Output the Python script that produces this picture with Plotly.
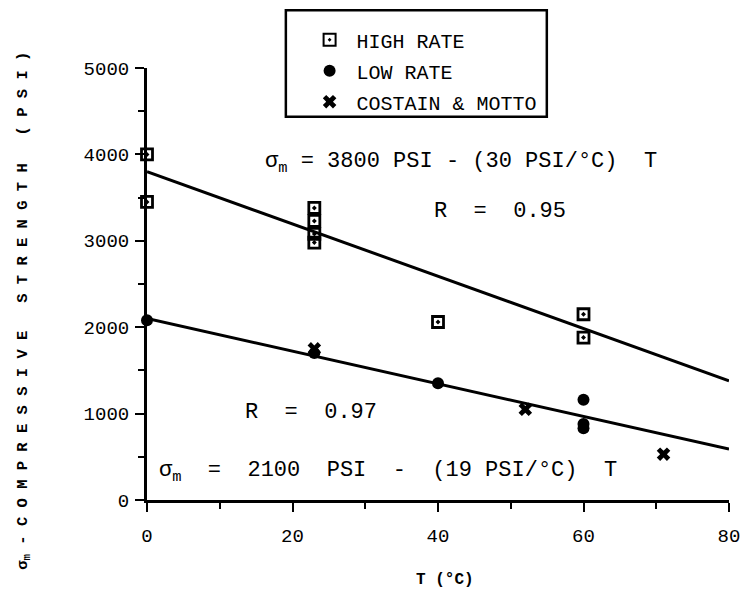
import plotly.graph_objects as go

# ---- data ----
high_T = [0, 0, 23, 23, 23, 23, 40, 60, 60]
high_S = [4000, 3450, 3380, 3230, 3080, 2980, 2060, 2150, 1880]

low_T = [0, 23, 40, 60, 60, 60]
low_S = [2080, 1700, 1350, 1160, 880, 830]

cm_T = [23, 52, 71]
cm_S = [1750, 1050, 530]

fit_T = [0, 80]
fit_high = [3800, 1380]
fit_low = [2100, 590]

FONT = "Liberation Mono"

# the page body adds an 8px offset; figure is sized so it ends at the window edge
OFF = 8
W, H = 752 - OFF, 592 - OFF
L, R, T, B = 147 - OFF, 14, 66 - OFF, 92
PW, PH = W - L - R, H - T - B


def px(s):
    """screen x pixel -> paper coordinate"""
    return (s - OFF - L) / PW


def py(s):
    """screen y pixel -> paper coordinate"""
    return (H - B - (s - OFF)) / PH


fig = go.Figure()
fig.add_trace(go.Scatter(x=fit_T, y=fit_high, mode="lines",
                         line=dict(color="black", width=3), showlegend=False, hoverinfo="skip"))
fig.add_trace(go.Scatter(x=fit_T, y=fit_low, mode="lines",
                         line=dict(color="black", width=3), showlegend=False, hoverinfo="skip"))
fig.add_trace(go.Scatter(x=high_T, y=high_S, mode="markers", name="HIGH RATE", legendgroup="a",
                         marker=dict(symbol="square-open-dot", size=11, color="black",
                                     line=dict(color="black", width=2.8)), cliponaxis=False))
fig.add_trace(go.Scatter(x=low_T, y=low_S, mode="markers", name="LOW RATE", legendgroup="b",
                         marker=dict(symbol="circle", size=12, color="black"), cliponaxis=False))
fig.add_trace(go.Scatter(x=cm_T, y=cm_S, mode="markers", name="COSTAIN & MOTTO", legendgroup="c",
                         marker=dict(symbol="x", size=12, color="black"), cliponaxis=False))

ann_font = dict(family=FONT, size=22, color="black")


def note(x, y, text, font=ann_font, **kw):
    fig.add_annotation(x=px(x), y=py(y), xref="paper", yref="paper",
                       xanchor="center", yanchor="middle", showarrow=False,
                       text=text, font=font, **kw)


note(466, 161, "σ<sub>m</sub> = 3800 PSI - (30 PSI/°C)  T")
note(505, 210, "R  =  0.95")
note(314, 412, "R  =  0.97")
note(392, 472, "σ<sub>m</sub>  =  2100  PSI  -  (19 PSI/°C)  T")
note(22, 310,
     "<b>σ<sub>m</sub> - C O M P R E S S I V E   S T R E N G T H   ( P S I )</b>",
     font=dict(family=FONT, size=15.5, color="black"), textangle=-90)
note(450, 580, "<b>T (°C)</b>", font=dict(family=FONT, size=16, color="black"))

# legend frame
fig.add_shape(type="rect", xref="paper", yref="paper",
              x0=px(288), x1=px(553), y0=py(115), y1=py(8),
              line=dict(color="black", width=2.5), fillcolor="white", layer="below")

fig.update_layout(
    width=W, height=H,
    margin=dict(l=L, r=R, t=T, b=B),
    paper_bgcolor="white", plot_bgcolor="white",
    font=dict(family=FONT, size=19, color="black"),
    legend=dict(x=px(305), y=py(18), xanchor="left", yanchor="top",
                borderwidth=0, bgcolor="rgba(0,0,0,0)",
                font=dict(family=FONT, size=20), itemsizing="constant",
                itemwidth=44, tracegroupgap=2),
    xaxis=dict(range=[0, 80], tickvals=[0, 20, 40, 60, 80], showgrid=False, zeroline=False,
               showline=True, linecolor="black", linewidth=3,
               ticks="outside", ticklen=9, tickwidth=2, tickcolor="black",
               minor=dict(dtick=10, ticks="outside", ticklen=6, tickwidth=2, tickcolor="black"),
               tickfont=dict(family=FONT, size=19), ticklabelstandoff=7),
    yaxis=dict(range=[0, 5000], tickvals=[0, 1000, 2000, 3000, 4000, 5000], showgrid=False,
               zeroline=False, showline=True, linecolor="black", linewidth=3,
               ticks="outside", ticklen=9, tickwidth=2, tickcolor="black",
               minor=dict(dtick=500, ticks="outside", ticklen=6, tickwidth=2, tickcolor="black"),
               tickfont=dict(family=FONT, size=19), ticklabelstandoff=2),
)

fig.write_html("out.html")
